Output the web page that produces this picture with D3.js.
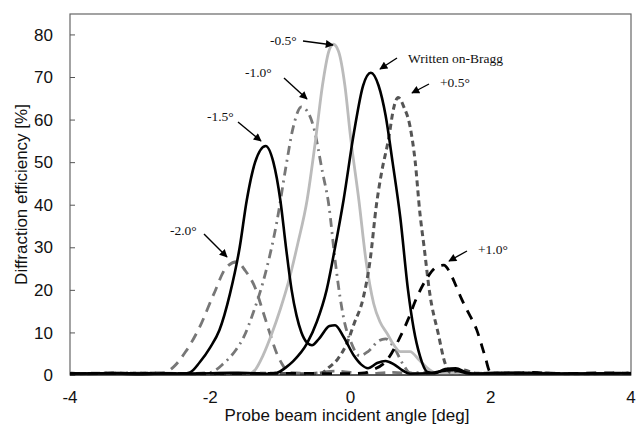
<!DOCTYPE html>
<html>
<head>
<meta charset="utf-8">
<script src="https://cdn.jsdelivr.net/npm/d3@7"></script>
<style>
  html, body { margin: 0; padding: 0; background: #fff; }
  svg { display: block; }
</style>
</head>
<body>
<svg id="chart" width="641" height="426"></svg>
<script>
// Diffraction efficiency vs probe beam incident angle, one curve per write angle
const xTicks = [-4, -2, 0, 2, 4];
const yTicks = [0, 10, 20, 30, 40, 50, 60, 70, 80];

// [angle (deg), efficiency (%)]
const seriesM20 = [[-4,0.5],[-3.7,0.2],[-3.4,0.6],[-3.1,0.3],[-2.85,0.5],[-2.65,0.6],[-2.53,1.8],[-2.35,5.5],[-2.15,11.3],[-1.95,19],[-1.77,25.3],[-1.62,26.6],[-1.5,24.5],[-1.36,20.5],[-1.25,15],[-1.15,9.8],[-1.05,5],[-0.98,2.7],[-0.88,0.6],[-0.6,0.4],[-0.2,0.9],[0.2,0.3],[0.6,0.6],[1.0,0.3],[1.5,0.6],[2.0,0.3],[2.6,0.6],[3.2,0.3],[4,0.5]];
const seriesM15 = [[-4,0.3],[-3.5,0.4],[-3,0.2],[-2.6,0.4],[-2.4,0.3],[-2.29,0.6],[-2.15,3],[-2.0,6.5],[-1.87,10.5],[-1.72,19],[-1.58,30],[-1.48,41],[-1.36,50],[-1.21,53.8],[-1.1,50],[-1.0,41],[-0.92,30],[-0.84,20],[-0.77,14],[-0.70,10],[-0.62,7.6],[-0.55,7],[-0.45,8.5],[-0.3,11.5],[-0.22,11.7],[-0.1,9],[0.05,4.5],[0.15,2.5],[0.25,1.6],[0.38,2.8],[0.5,3.3],[0.62,2.5],[0.75,1],[0.85,0.3],[1.1,0.4],[1.45,1.2],[1.7,0.3],[2.2,0.5],[3,0.3],[4,0.4]];
const seriesM10 = [[-4,0.3],[-3.3,0.5],[-2.6,0.3],[-2.2,0.4],[-2.0,0.6],[-1.81,2.7],[-1.63,6],[-1.52,9],[-1.39,14.5],[-1.21,24.1],[-1.05,36],[-0.92,49],[-0.82,58],[-0.70,63],[-0.6,61.5],[-0.53,58.5],[-0.4,47.7],[-0.31,40],[-0.22,27],[-0.15,18.4],[-0.08,12],[0.0,8],[0.13,4.5],[0.25,5.5],[0.4,8],[0.5,8.5],[0.62,6.5],[0.75,2.5],[0.85,0.5],[1.1,0.6],[1.5,0.3],[2.2,0.5],[3,0.3],[4,0.5]];
const seriesM05 = [[-4,0.4],[-3.4,0.2],[-2.8,0.5],[-2.2,0.3],[-1.7,0.5],[-1.45,0.3],[-1.36,1.2],[-1.25,4.5],[-1.12,9.8],[-1.0,15.5],[-0.89,21.5],[-0.75,31],[-0.62,41],[-0.5,55],[-0.4,68],[-0.31,76],[-0.245,77.7],[-0.17,76],[-0.08,68],[0.0,56],[0.12,41],[0.22,27],[0.33,16.8],[0.42,12.5],[0.52,9.8],[0.62,7],[0.71,5.5],[0.85,5.5],[0.98,3.5],[1.13,1.2],[1.25,0.3],[1.6,0.5],[2.0,0.3],[2.5,0.5],[3.2,0.2],[4,0.4]];
const seriesBragg = [[-4,0.3],[-3.2,0.4],[-2.4,0.3],[-1.6,0.5],[-1.2,0.3],[-1.05,0.5],[-0.92,1.8],[-0.82,3.2],[-0.62,7.4],[-0.48,12.5],[-0.34,20],[-0.22,30],[-0.1,41],[0.05,57],[0.18,68],[0.29,71],[0.4,68],[0.5,61],[0.6,50],[0.71,37],[0.82,20],[0.9,11],[0.99,4.5],[1.09,0.8],[1.2,0.4],[1.35,1.4],[1.5,1.6],[1.65,0.6],[1.8,0.3],[2.4,0.4],[3.2,0.3],[4,0.4]];
const seriesP05 = [[-4,0.3],[-3,0.4],[-2,0.3],[-1.2,0.4],[-0.6,0.3],[-0.42,0.5],[-0.3,1.9],[-0.18,3.8],[-0.05,7.5],[0.05,12],[0.18,18],[0.28,27],[0.37,40],[0.44,47.3],[0.54,55.2],[0.62,63],[0.68,65.2],[0.76,63],[0.85,58.3],[0.92,50.5],[0.99,38],[1.05,30],[1.13,19.2],[1.25,9.8],[1.35,2.7],[1.43,0.6],[1.6,1.2],[1.8,0.4],[2.4,0.5],[3.2,0.3],[4,0.4]];
const seriesP10 = [[-4,0.3],[-3,0.4],[-2,0.3],[-1,0.4],[0.0,0.3],[0.2,0.5],[0.32,1.2],[0.52,3.5],[0.71,9],[0.82,13],[0.94,18],[1.1,23],[1.22,25.3],[1.33,25.8],[1.42,24],[1.49,21.5],[1.58,18],[1.66,15.3],[1.80,10.6],[1.92,4.3],[1.99,0.8],[2.2,0.3],[2.6,0.6],[3.0,0.3],[3.5,0.5],[4,0.4]];

const plot = { left: 70, right: 631, top: 14, bottom: 375 };

const svg = d3.select('#chart');
const x = d3.scaleLinear().domain([-4, 4]).range([plot.left, plot.right]);
const y = d3.scaleLinear().domain([0, 84.8]).range([plot.bottom, plot.top]);

// frame
svg.append('rect')
  .attr('x', plot.left).attr('y', plot.top)
  .attr('width', plot.right - plot.left).attr('height', plot.bottom - plot.top)
  .attr('fill', 'none').attr('stroke', '#666').attr('stroke-width', 1.2);

// y axis with small inward ticks
const yAxis = d3.axisRight(y).tickValues(yTicks).tickSize(5).tickFormat('');
svg.append('g').attr('transform', `translate(${plot.left},0)`).call(yAxis)
  .call(g => g.select('.domain').remove())
  .call(g => g.selectAll('.tick line').attr('stroke', '#555'));
svg.append('g').selectAll('text').data(yTicks).join('text')
  .attr('x', 53).attr('y', d => y(d)).attr('dy', '0.36em')
  .attr('text-anchor', 'end')
  .attr('font-family', 'Liberation Sans, Arial, sans-serif').attr('font-size', 17)
  .attr('fill', '#111').text(d => d);

// x axis labels
svg.append('g').selectAll('text').data(xTicks).join('text')
  .attr('x', d => x(d)).attr('y', 403)
  .attr('text-anchor', 'middle')
  .attr('font-family', 'Liberation Sans, Arial, sans-serif').attr('font-size', 17)
  .attr('fill', '#111').text(d => d);

// axis titles
svg.append('text')
  .attr('x', 347).attr('y', 421).attr('text-anchor', 'middle')
  .attr('font-family', 'Liberation Sans, Arial, sans-serif').attr('font-size', 17)
  .attr('fill', '#111').text('Probe beam incident angle [deg]');
svg.append('text')
  .attr('transform', `translate(27,${(plot.top + plot.bottom) / 2}) rotate(-90)`)
  .attr('text-anchor', 'middle')
  .attr('font-family', 'Liberation Sans, Arial, sans-serif').attr('font-size', 17)
  .attr('fill', '#111').text('Diffraction efficiency [%]');

// curves
const line = d3.line().x(d => x(d[0])).y(d => y(d[1])).curve(d3.curveMonotoneX);
const curves = [
  { data: seriesM20, color: '#777', width: 2.8, dash: '10,7' },
  { data: seriesM10, color: '#777', width: 2.8, dash: '9,5,2,5' },
  { data: seriesM05, color: '#bbb', width: 2.8, dash: null },
  { data: seriesP05, color: '#555', width: 3, dash: '6,4' },
  { data: seriesP10, color: '#000', width: 2.8, dash: '10,8' },
  { data: seriesM15, color: '#000', width: 2.6, dash: null },
  { data: seriesBragg, color: '#000', width: 2.6, dash: null }
];
svg.append('g').selectAll('path').data(curves).join('path')
  .attr('d', d => line(d.data))
  .attr('fill', 'none')
  .attr('stroke', d => d.color)
  .attr('stroke-width', d => d.width)
  .attr('stroke-dasharray', d => d.dash)
  .attr('stroke-linejoin', 'round');

// bottom axis line
svg.append('line')
  .attr('x1', plot.left).attr('x2', plot.right)
  .attr('y1', plot.bottom).attr('y2', plot.bottom)
  .attr('stroke', '#111').attr('stroke-width', 1.2);

// annotations with arrows
const defs = svg.append('defs');
defs.append('marker').attr('id', 'arrow')
  .attr('viewBox', '0 0 10 10').attr('refX', 9).attr('refY', 5)
  .attr('markerWidth', 9).attr('markerHeight', 8)
  .attr('markerUnits', 'userSpaceOnUse')
  .attr('orient', 'auto')
  .append('path').attr('d', 'M0,0 L10,5 L0,10 z').attr('fill', '#000');

const notes = [
  { text: '-2.0°', tx: 170, ty: 235, from: [204, 234], to: [227, 257] },
  { text: '-1.5°', tx: 207, ty: 121, from: [238, 122], to: [261, 141] },
  { text: '-1.0°', tx: 245, ty: 77, from: [284, 78], to: [307, 99] },
  { text: '-0.5°', tx: 270, ty: 45, from: [303, 41], to: [333, 45] },
  { text: 'Written on-Bragg', tx: 408, ty: 63, from: [397, 58], to: [380, 69] },
  { text: '+0.5°', tx: 440, ty: 87, from: [429, 84], to: [412, 93] },
  { text: '+1.0°', tx: 478, ty: 254, from: [467, 251], to: [449, 261] }
];
const ng = svg.append('g');
ng.selectAll('text').data(notes).join('text')
  .attr('x', d => d.tx).attr('y', d => d.ty)
  .attr('font-family', 'Liberation Serif, Times New Roman, serif').attr('font-size', 13.5)
  .attr('fill', '#111').text(d => d.text);
ng.selectAll('line').data(notes).join('line')
  .attr('x1', d => d.from[0]).attr('y1', d => d.from[1])
  .attr('x2', d => d.to[0]).attr('y2', d => d.to[1])
  .attr('stroke', '#000').attr('stroke-width', 1.4)
  .attr('marker-end', 'url(#arrow)');
</script>
</body>
</html>
